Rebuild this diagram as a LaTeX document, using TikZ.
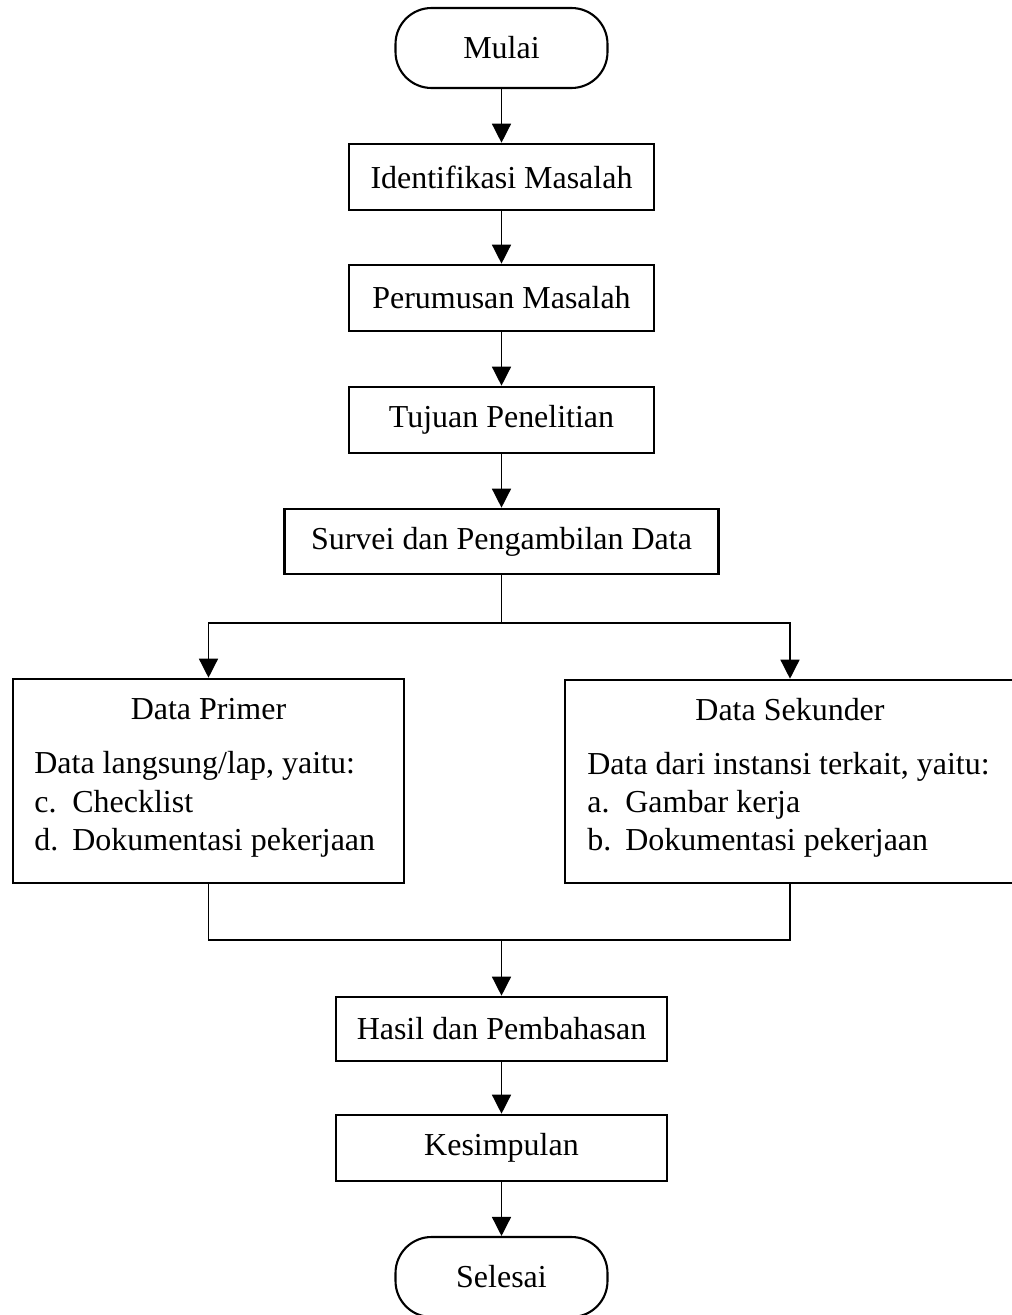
\documentclass[tikz,border=0pt]{standalone}
\usepackage{fontspec}
\setmainfont{Liberation Serif}
\usetikzlibrary{arrows.meta}
\begin{document}
\begin{tikzpicture}[x=0.02cm,y=-0.02cm,
  font=\fontsize{18.2}{22}\selectfont,
  box/.style={draw, line width=1.5pt, inner sep=0pt},
  term/.style={draw, line width=1.2pt, rounded corners=0.72cm, inner sep=0pt, minimum width=4.24cm, minimum height=1.6cm},
  conn/.style={line width=0.8pt},
  arr/.style={conn, -{Triangle[length=0.38cm,width=0.38cm]}},
  txt/.style={inner sep=0pt, anchor=base west},
  ttl/.style={inner sep=0pt, anchor=base},
]
\useasboundingbox (0,0) rectangle (1011,1315);
\node[term] (mulai) at (501.5,48) {Mulai};
\node[box, minimum width=6.1cm, minimum height=1.32cm] (idm) at (501.5,177) {Identifikasi Masalah};
\node[box, minimum width=6.1cm, minimum height=1.32cm] (prm) at (501.5,298) {Perumusan Masalah};
\node[box, minimum width=6.1cm, minimum height=1.32cm] (tuj) at (501.5,420) {Tujuan Penelitian};
\node[box, minimum width=8.68cm, minimum height=1.3cm] (srv) at (501.5,541.5) {Survei dan Pengambilan Data};
\node[box, minimum width=7.82cm, minimum height=4.08cm] (dp) at (208.5,781) {};
\node[box, minimum width=9.0cm, minimum height=4.06cm] (ds) at (790,781.5) {};
\node[ttl] (dpt) at (208.5,719) {Data Primer};
\node[txt] (dp1) at (34,773) {Data langsung/lap, yaitu:};
\node[txt] (dp2) at (34,812) {\makebox[0.76cm][l]{c.}Checklist};
\node[txt] (dp3) at (34,850) {\makebox[0.76cm][l]{d.}Dokumentasi pekerjaan};
\node[ttl] (dst) at (790,720) {Data Sekunder};
\node[txt] (ds1) at (587,774) {Data dari instansi terkait, yaitu:};
\node[txt] (ds2) at (587,812) {\makebox[0.76cm][l]{a.}Gambar kerja};
\node[txt] (ds3) at (587,850) {\makebox[0.76cm][l]{b.}Dokumentasi pekerjaan};
\node[box, minimum width=6.62cm, minimum height=1.28cm] (hsl) at (501.5,1029) {Hasil dan Pembahasan};
\node[box, minimum width=6.62cm, minimum height=1.32cm] (ksp) at (501.5,1148) {Kesimpulan};
\node[term] (sls) at (501.5,1277) {Selesai};
\coordinate (split) at (501.5,623);
\coordinate (join) at (501.5,940);
\draw[arr] (mulai) -- (idm);
\draw[arr] (idm) -- (prm);
\draw[arr] (prm) -- (tuj);
\draw[arr] (tuj) -- (srv);
\draw[conn] (srv) -- (split);
\draw[arr] (split) -| (dp);
\draw[arr] (split) -| (ds);
\draw[conn] (dp) |- (join);
\draw[conn] (ds) |- (join);
\draw[arr] (join) -- (hsl);
\draw[arr] (hsl) -- (ksp);
\draw[arr] (ksp) -- (sls);
\end{tikzpicture}
\end{document}
